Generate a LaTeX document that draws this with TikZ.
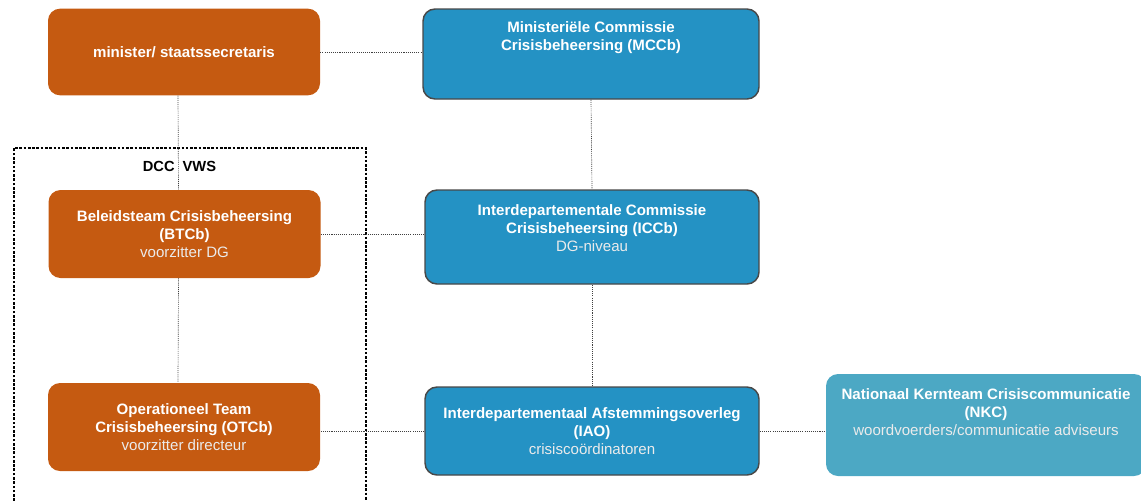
\documentclass[tikz,border=0pt]{standalone}
\usepackage{fontspec}
\setmainfont{Liberation Sans}

\definecolor{vwsorange}{RGB}{197,90,17}
\definecolor{rijkblue}{RGB}{36,146,196}
\definecolor{nkcblue}{RGB}{76,168,196}
\definecolor{rimgray}{RGB}{72,72,72}

\tikzset{
  vwsbox/.style={rectangle, rounded corners=9pt, fill=vwsorange, text=white,
    align=center, minimum width=204pt, minimum height=65pt,
    font=\fontsize{11.3}{13.5}\selectfont},
  rijkbox/.style={vwsbox, fill=rijkblue, draw=rimgray, line width=1.1pt,
    minimum width=250.5pt},
  nkcbox/.style={vwsbox, fill=nkcblue, minimum width=240pt, minimum height=76.5pt},
  link/.style={draw=black!75, line width=0.5pt, dash pattern=on 0.8pt off 0.8pt},
  dccframe/.style={draw=black, line width=0.8pt, dash pattern=on 2pt off 1.2pt}
}
\newcommand{\subline}[1]{\textcolor{white!92!black}{#1}}

\begin{document}
\begin{tikzpicture}[x=0.75pt,y=-0.75pt]
\useasboundingbox (0,0) rectangle (1141,500);

\draw[dccframe] (14,501) -- (14,148) -- (366,148) -- (366,501);
\node[font=\bfseries\fontsize{11}{13.5}\selectfont] (dcclabel) at (179.5,166) {DCC\hspace{6pt}VWS};

\node[vwsbox] (minister) at (184,52) {\textbf{minister/ staatssecretaris}};
\node[vwsbox, minimum height=66pt] (btcb) at (184.5,234)
  {\textbf{Beleidsteam Crisisbeheersing}\\\textbf{(BTCb)}\\\subline{voorzitter DG}};
\node[vwsbox, minimum height=66pt] (otcb) at (184,427)
  {\textbf{Operationeel Team}\\\textbf{Crisisbeheersing (OTCb)}\\\subline{voorzitter directeur}};

\node[rijkbox, minimum width=252pt, minimum height=67.5pt] (mccb) at (591,54)
  {\textbf{Ministeriële Commissie}\\\textbf{Crisisbeheersing (MCCb)}\\\mbox{}\\\mbox{}};
\node[rijkbox, minimum height=70.5pt] (iccb) at (592,237)
  {\textbf{Interdepartementale Commissie}\\\textbf{Crisisbeheersing (ICCb)}\\\subline{DG-niveau}\\\mbox{}};
\node[rijkbox, minimum height=66pt] (iao) at (592,431)
  {\textbf{Interdepartementaal Afstemmingsoverleg}\\\textbf{(IAO)}\\\subline{crisiscoördinatoren}};

\node[nkcbox] (nkc) at (986,425)
  {\textbf{Nationaal Kernteam Crisiscommunicatie}\\\textbf{(NKC)}\\\subline{woordvoerders/communicatie adviseurs}\\[6pt]\mbox{}};

\draw[link] (minister.east) -- (minister.east -| mccb.west);
\draw[link] ([xshift=-4.5pt]minister.south) -- ([xshift=-4.5pt]btcb.north);
\draw[link] ([xshift=-4.5pt]btcb.south) -- ([xshift=-4.5pt]otcb.north);
\draw[link] (mccb.south) -- (iccb.north);
\draw[link] (iccb.south) -- (iao.north);
\draw[link] (btcb.east) -- (btcb.east -| iccb.west);
\draw[link] (iao.west) -- (iao.west -| otcb.east);
\draw[link] (iao.east) -- (iao.east -| nkc.west);
\end{tikzpicture}
\end{document}
